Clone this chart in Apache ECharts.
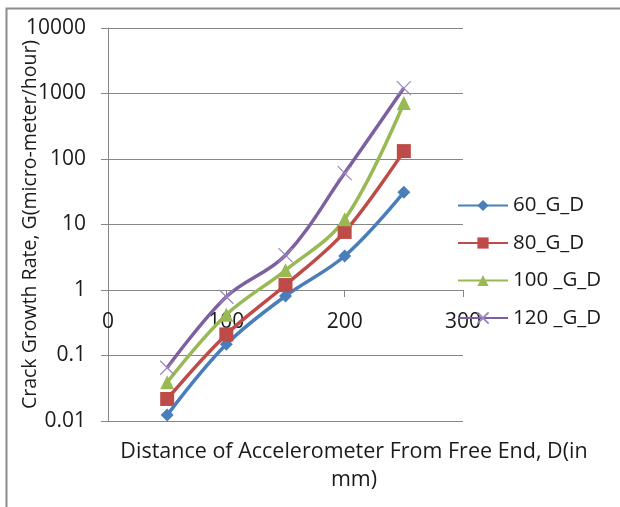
<!DOCTYPE html>
<html>
<head>
<meta charset="utf-8">
<script src="https://cdn.jsdelivr.net/npm/echarts@6/dist/echarts.min.js"></script>
<style>html,body{margin:0;padding:0;background:#fff}#c{width:620px;height:507px}</style>
</head>
<body>
<div id="c"></div>
<script>
var distances = [50, 100, 150, 200, 250];
var seriesNames = ['60_G_D', '80_G_D', '100 _G_D', '120 _G_D'];
var g60 = [0.0123, 0.148, 0.81, 3.3, 31];
var g80 = [0.0217, 0.21, 1.19, 7.7, 132];
var g100 = [0.039, 0.42, 2.0, 12, 716];
var g120 = [0.065, 0.79, 3.4, 61, 1210];
var yTicks = [0.01, 0.1, 1, 10, 100, 1000, 10000];
var xTicks = [0, 100, 200, 300];
var xTitle = ['Distance of Accelerometer From Free End, D(in', 'mm)'];
var yTitle = 'Crack Growth Rate, G(micro-meter/hour)';

var FONT = 'Open Sans';
var colors = ['#4A7EBB', '#BE4B48', '#98B954', '#7D60A0'];
var symbols = ['diamond', 'rect', 'triangle', 'path://M0,0L10,10M10,0L0,10'];
var symbolSizes = [13, 14, 14, 14];
var allData = [g60, g80, g100, g120];

function pairs(arr) { return distances.map(function (d, i) { return [d, arr[i]]; }); }

var series = allData.map(function (arr, k) {
  var isX = k === 3;
  return {
    name: seriesNames[k],
    type: 'line',
    smooth: 0.35,
    data: pairs(arr),
    symbol: symbols[k],
    symbolSize: symbolSizes[k],
    showAllSymbol: true,
    lineStyle: { color: colors[k], width: 3.5 },
    itemStyle: isX ? { color: 'rgba(0,0,0,0)', borderColor: '#9A86BC', borderWidth: 1.2 } : { color: colors[k], borderWidth: 0 },
    emphasis: { disabled: true }
  };
});

var chart = echarts.init(document.getElementById('c'), null, { renderer: 'canvas' });
chart.setOption({
  animation: false,
  backgroundColor: '#fff',
  textStyle: { fontFamily: FONT },
  grid: { left: 108, top: 28, width: 355, height: 393, containLabel: false, outerBoundsMode: 'none' },
  xAxis: {
    type: 'value', min: 0, max: 300, interval: 100,
    position: 'bottom', offset: -131,
    axisLine: { onZero: false, lineStyle: { color: '#868686', width: 1 } },
    axisTick: { show: true, length: 7, lineStyle: { color: '#868686' } },
    axisLabel: { margin: 22, fontSize: 21, color: '#1a1a1a', fontFamily: FONT,
      formatter: function (v) { return xTicks.indexOf(v) >= 0 ? String(v) : ''; } },
    splitLine: { show: false }
  },
  yAxis: {
    type: 'log', logBase: 10, min: 0.01, max: 10000,
    axisLine: { show: true, lineStyle: { color: '#868686', width: 1 } },
    axisTick: { show: true, length: 7, lineStyle: { color: '#868686' } },
    axisLabel: { margin: 22, fontSize: 21, color: '#1a1a1a', fontFamily: FONT,
      formatter: function (v) {
        for (var i = 0; i < yTicks.length; i++) { if (Math.abs(v - yTicks[i]) / yTicks[i] < 1e-6) return String(yTicks[i]); }
        return '';
      } },
    splitLine: { show: true, lineStyle: { color: '#868686', width: 1 } },
    minorTick: { show: false },
    name: yTitle, nameLocation: 'middle', nameRotate: 90, nameGap: 68, nameMoveOverlap: false,
    nameTextStyle: { fontSize: 19.5, color: '#1a1a1a', fontFamily: FONT }
  },
  legend: {
    orient: 'vertical', left: 457, top: 195, padding: 0,
    itemWidth: 50, itemHeight: 14, itemGap: 16.5,
    textStyle: { fontSize: 20.5, color: '#1a1a1a', fontFamily: FONT },
    data: seriesNames,
    selectedMode: false
  },
  graphic: [
    { type: 'rect', shape: { x: 6.5, y: 8.5, width: 640, height: 520 }, style: { fill: null, stroke: '#8c8c8c', lineWidth: 2 }, silent: true, z: 100 },
    { type: 'text', x: 354, y: 466, style: { text: xTitle.join('\n'), align: 'center', verticalAlign: 'middle', fontSize: 21.5, lineHeight: 28, fill: '#1a1a1a', fontFamily: FONT }, silent: true }
  ],
  series: series
});
</script>
</body>
</html>
